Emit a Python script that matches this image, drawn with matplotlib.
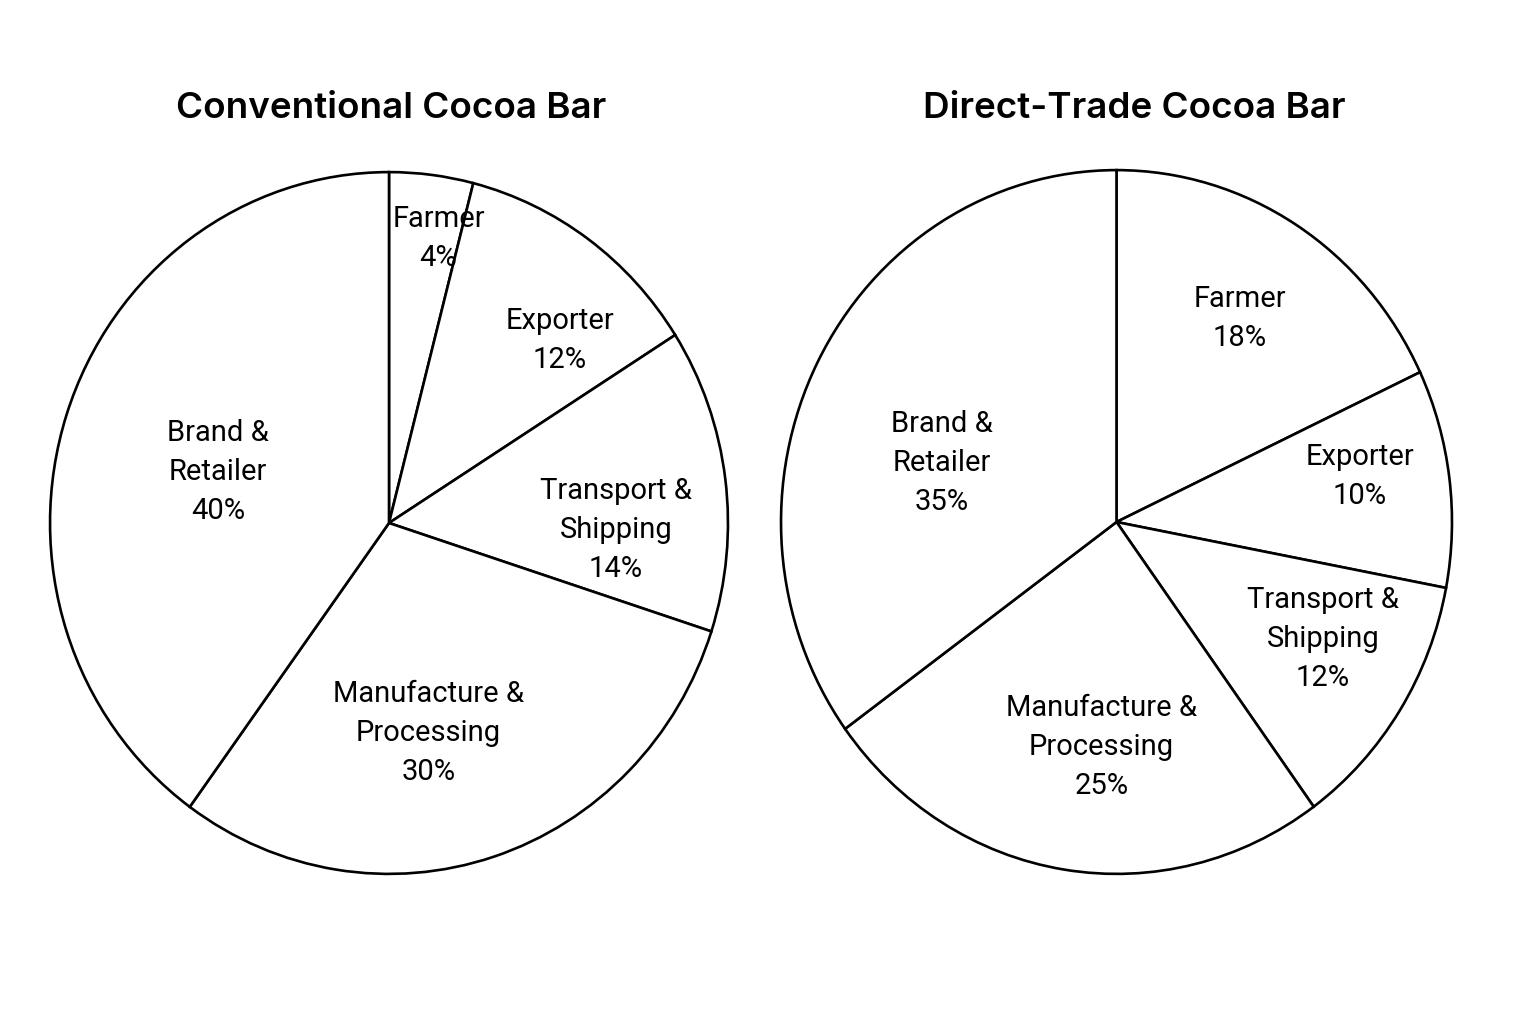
import numpy as np
import matplotlib
matplotlib.use("Agg")
import matplotlib.pyplot as plt

# Dane
categories = ["Farmer", "Exporter", "Transport &\nShipping",
              "Manufacture &\nProcessing", "Brand &\nRetailer"]
conventional = [4, 12, 14, 30, 40]
direct_trade = [18, 10, 12, 25, 35]
titles = ["Conventional Cocoa Bar", "Direct-Trade Cocoa Bar"]

# label placement: radius fraction and angle offset (deg) from wedge middle
label_r_left = [0.825, 0.725, 0.67, 0.61, 0.525]
label_da_left = [-3, -8, -9, -7, 2]
label_r_right = [0.686, 0.736, 0.70, 0.64, 0.547]
label_da_right = [0, 3, 4, 5, 9]

LW = 1.9


def draw_pie(ax, values, label_r, label_da):
    wedges, _ = ax.pie(values, startangle=90, counterclock=False,
                       colors=["white"] * len(values),
                       wedgeprops=dict(edgecolor="black", linewidth=LW))
    ax.set_aspect("auto")
    ax.set_xlim(-1.006, 1.006)
    ax.set_ylim(-1.006, 1.006)
    for w, cat, v, r, da in zip(wedges, categories, values, label_r, label_da):
        ang = np.deg2rad((w.theta1 + w.theta2) / 2 + da)
        ax.text(r * np.cos(ang), r * np.sin(ang), f"{cat}\n{v}%",
                ha="center", va="center", fontsize=21, family="Roboto",
                linespacing=1.5)


fig = plt.figure(figsize=(15.36, 10.24), dpi=100)

# pie ellipse boxes in pixels: x0, x1, y0, y1 (from top)
boxes = [(48, 730, 170, 876), (779, 1454, 168, 876)]
title_x = [391, 1134]
for (x0, x1, y0, y1), vals, lr, lda, title, tx in zip(
        boxes, [conventional, direct_trade], [label_r_left, label_r_right],
        [label_da_left, label_da_right], titles, title_x):
    ax = fig.add_axes([x0 / 1536, (1024 - y1) / 1024,
                       (x1 - x0) / 1536, (y1 - y0) / 1024])
    draw_pie(ax, vals, lr, lda)
    fig.text(tx / 1536, 1 - 108 / 1024, title,
             ha="center", va="center", fontsize=26.5, family="Inter",
             fontweight="semibold")

fig.savefig("out.png", dpi=100, facecolor="white")
